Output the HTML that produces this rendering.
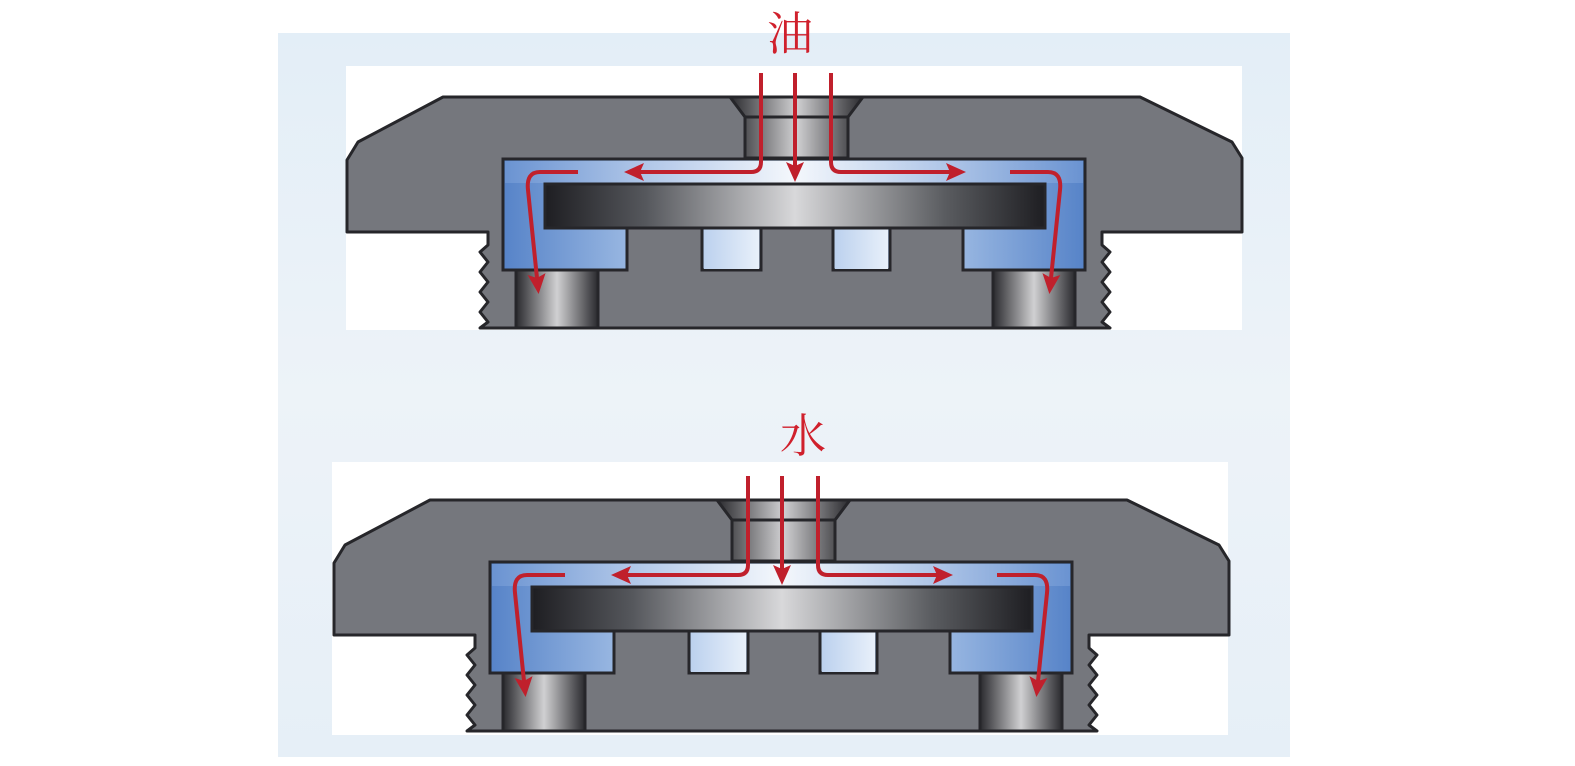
<!DOCTYPE html>
<html><head><meta charset="utf-8"><style>
html,body{margin:0;padding:0;background:#fff;}
svg{display:block;}
</style></head><body>
<svg width="1575" height="766" viewBox="0 0 1575 766" xmlns="http://www.w3.org/2000/svg">
<defs>
<linearGradient id="bg" x1="0" y1="0" x2="0" y2="1">
<stop offset="0" stop-color="#e3eef7"/><stop offset="0.5" stop-color="#edf3f8"/><stop offset="1" stop-color="#e6eff7"/>
</linearGradient>
<linearGradient id="plate" x1="0" y1="0" x2="1" y2="0">
<stop offset="0" stop-color="#1e1e22"/><stop offset="0.2" stop-color="#55575c"/><stop offset="0.5" stop-color="#d8d8da"/><stop offset="0.8" stop-color="#5a5c60"/><stop offset="1" stop-color="#1e1e22"/>
</linearGradient>
<linearGradient id="cyl" x1="0" y1="0" x2="1" y2="0">
<stop offset="0" stop-color="#2a2a2e"/><stop offset="0.5" stop-color="#d0d0d2"/><stop offset="1" stop-color="#2a2a2e"/>
</linearGradient>
<linearGradient id="blue" x1="503" y1="0" x2="1085" y2="0" gradientUnits="userSpaceOnUse">
<stop offset="0" stop-color="#5683c8"/><stop offset="0.22" stop-color="#9ab8e2"/><stop offset="0.5" stop-color="#c8d9f0"/><stop offset="0.78" stop-color="#9ab8e2"/><stop offset="1" stop-color="#5683c8"/>
</linearGradient>
<linearGradient id="gap" x1="0" y1="0" x2="1" y2="0">
<stop offset="0" stop-color="#6f97d4"/><stop offset="0.5" stop-color="#ffffff"/><stop offset="1" stop-color="#6f97d4"/>
</linearGradient>
<linearGradient id="slot" x1="0" y1="0" x2="1" y2="0">
<stop offset="0" stop-color="#bcd1ee"/><stop offset="1" stop-color="#e8f0fa"/>
</linearGradient>
<marker id="ah" markerWidth="20" markerHeight="18" refX="14" refY="9" orient="auto" markerUnits="userSpaceOnUse" viewBox="0 0 20 18">
<path d="M0,0 L20,9 L0,18 L4,9 z" fill="#c0202c"/>
</marker>
<g id="unit">
<path d="M443,97 L1140,97 L1232,142 L1242,158 L1242,232 L1102,232 L1102,245 L1110,252 L1102,262 L1110,272 L1102,282 L1110,292 L1102,302 L1110,312 L1102,322 L1110,328 L480,328 L488,322 L480,312 L488,302 L480,292 L488,282 L480,272 L488,262 L480,252 L488,245 L488,232 L347,232 L347,160 L358,142 Z" fill="#75777d" stroke="#26262a" stroke-width="3" stroke-linejoin="round"/>
<path d="M730,97 L863,97 L848,117 L848,158 L745,158 L745,117 Z" fill="url(#cyl)" stroke="#26262a" stroke-width="3"/>
<line x1="745" y1="117" x2="848" y2="117" stroke="#26262a" stroke-width="3"/>
<path d="M503,159 L1085,159 L1085,270 L963,270 L963,228 L890,228 L890,270 L833,270 L833,228 L761,228 L761,270 L702,270 L702,228 L627,228 L627,270 L503,270 Z" fill="url(#blue)" stroke="#26262a" stroke-width="3"/>
<rect x="505" y="161" width="578" height="22" fill="url(#gap)" opacity="0.8"/>
<rect x="704" y="229" width="55" height="40" fill="url(#slot)"/>
<rect x="835" y="229" width="53" height="40" fill="url(#slot)"/>
<rect x="545" y="184" width="500" height="44" fill="url(#plate)" stroke="#26262a" stroke-width="3"/>
<rect x="516" y="270" width="82" height="58" fill="url(#cyl)" stroke="#26262a" stroke-width="3"/>
<rect x="993" y="270" width="82" height="58" fill="url(#cyl)" stroke="#26262a" stroke-width="3"/>
<g fill="none" stroke="#c0202c" stroke-width="4">
<path d="M795,73 L795,176" marker-end="url(#ah)"/>
<path d="M761,73 L761,162 Q761,172 751,172 L630,172" marker-end="url(#ah)"/>
<path d="M831,73 L831,162 Q831,172 841,172 L960,172" marker-end="url(#ah)"/>
<path d="M578,172 L540,172 Q526,172 528,190 L538,288" marker-end="url(#ah)"/>
<path d="M1010,172 L1048,172 Q1062,172 1060,190 L1050,288" marker-end="url(#ah)"/>
</g>
</g>
</defs>
<rect x="278" y="33" width="1012" height="724" fill="url(#bg)"/>
<rect x="346" y="66" width="896" height="264" fill="#ffffff"/>
<rect x="332" y="462" width="896" height="273" fill="#ffffff"/>
<use href="#unit"/>
<use href="#unit" transform="translate(-13,403)"/>
<text x="790" y="50" font-family="'Liberation Serif','Noto Serif CJK SC',serif" font-size="46" fill="#d0202c" text-anchor="middle">油</text>
<text x="803" y="452" font-family="'Liberation Serif','Noto Serif CJK SC',serif" font-size="46" fill="#d0202c" text-anchor="middle">水</text>
</svg>
</body></html>
